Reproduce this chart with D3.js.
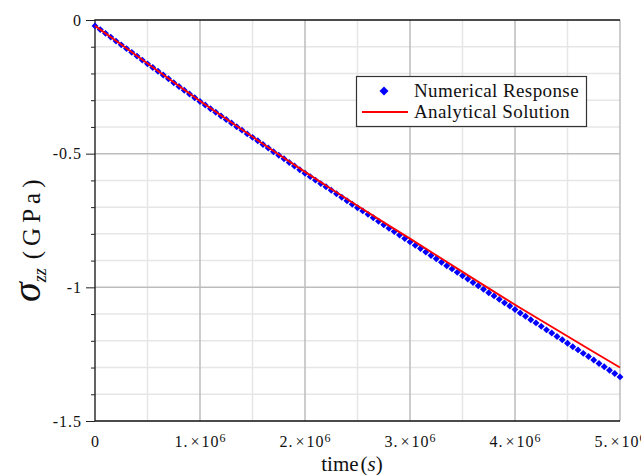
<!DOCTYPE html>
<html>
<head>
<meta charset="utf-8">
<script src="https://cdn.jsdelivr.net/npm/d3@7"></script>
<style>
  body { margin: 0; background: #fff; }
  svg { display: block; font-family: "Liberation Serif", "Times New Roman", serif; }
</style>
</head>
<body>
<div class="chart"></div>
<script>
// DATA ---------------------------------------------------------------

// sample times of the numerical response (units of 1e6 s)
const numTimes = [0, 0.05, 0.1, 0.15, 0.2, 0.25, 0.3, 0.35, 0.4, 0.45,
  0.5, 0.55, 0.6, 0.65, 0.7, 0.75, 0.8, 0.85, 0.9, 0.95,
  1, 1.05, 1.1, 1.15, 1.2, 1.25, 1.3, 1.35, 1.4, 1.45,
  1.5, 1.55, 1.6, 1.65, 1.7, 1.75, 1.8, 1.85, 1.9, 1.95,
  2, 2.05, 2.1, 2.15, 2.2, 2.25, 2.3, 2.35, 2.4, 2.45,
  2.5, 2.55, 2.6, 2.65, 2.7, 2.75, 2.8, 2.85, 2.9, 2.95,
  3, 3.05, 3.1, 3.15, 3.2, 3.25, 3.3, 3.35, 3.4, 3.45,
  3.5, 3.55, 3.6, 3.65, 3.7, 3.75, 3.8, 3.85, 3.9, 3.95,
  4, 4.05, 4.1, 4.15, 4.2, 4.25, 4.3, 4.35, 4.4, 4.45,
  4.5, 4.55, 4.6, 4.65, 4.7, 4.75, 4.8, 4.85, 4.9, 4.95, 5];

// sigma_zz numerical (GPa)
const numValues = [-0.022, -0.036, -0.050, -0.064, -0.079, -0.093, -0.107, -0.121, -0.135, -0.150,
  -0.164, -0.178, -0.192, -0.206, -0.220, -0.235, -0.249, -0.263, -0.277, -0.291,
  -0.305, -0.318, -0.332, -0.345, -0.359, -0.372, -0.385, -0.399, -0.412, -0.426,
  -0.439, -0.452, -0.466, -0.479, -0.493, -0.506, -0.519, -0.533, -0.546, -0.560,
  -0.573, -0.586, -0.599, -0.612, -0.624, -0.637, -0.650, -0.663, -0.676, -0.689,
  -0.702, -0.714, -0.727, -0.740, -0.753, -0.766, -0.779, -0.791, -0.804, -0.817,
  -0.830, -0.843, -0.855, -0.868, -0.881, -0.893, -0.906, -0.919, -0.931, -0.944,
  -0.957, -0.969, -0.982, -0.994, -1.007, -1.020, -1.032, -1.045, -1.058, -1.070,
  -1.083, -1.096, -1.108, -1.121, -1.133, -1.146, -1.159, -1.171, -1.184, -1.196,
  -1.209, -1.222, -1.234, -1.247, -1.259, -1.272, -1.285, -1.297, -1.310, -1.322, -1.335];

// analytical solution
const anaTimes = [0, 0.25, 0.5, 0.75, 1, 1.25, 1.5, 1.75, 2, 2.25, 2.5,
  2.75, 3, 3.25, 3.5, 3.75, 4, 4.25, 4.5, 4.75, 5];
const anaValues = [-0.022, -0.092, -0.163, -0.233, -0.303, -0.370, -0.437, -0.503, -0.568, -0.632, -0.695,
  -0.757, -0.818, -0.880, -0.942, -1.004, -1.065, -1.124, -1.183, -1.242, -1.300];

// ticks
const xMajor = [0, 1, 2, 3, 4, 5];
const xMinor = [0.5, 1.5, 2.5, 3.5, 4.5];
const yMajor = [0, -0.5, -1, -1.5];
const yMinor = [-0.1, -0.2, -0.3, -0.4, -0.6, -0.7, -0.8, -0.9, -1.1, -1.2, -1.3, -1.4];
const yLabels = ['0', '-0.5', '-1', '-1.5'];

const legendNames = ['Numerical Response', 'Analytical Solution'];

// CHART INIT ---------------------------------------------------------

const W = 641, H = 475;
const svg = d3.select('.chart')
    .append('svg')
    .attr('width', W)
    .attr('height', H);

const xScale = d3.scaleLinear().domain([0, 5]).range([95, 620]);
const yScale = d3.scaleLinear().domain([0, -1.5]).range([20, 421]);

// grid
const grid = svg.append('g');
grid.selectAll('.gx-minor').data(xMinor).enter().append('line')
    .attr('x1', d => xScale(d)).attr('x2', d => xScale(d))
    .attr('y1', yScale(0)).attr('y2', yScale(-1.5))
    .attr('stroke', '#e6e6e6').attr('stroke-width', 1.5);
grid.selectAll('.gy-minor').data(yMinor).enter().append('line')
    .attr('x1', xScale(0)).attr('x2', xScale(5))
    .attr('y1', d => yScale(d)).attr('y2', d => yScale(d))
    .attr('stroke', '#e6e6e6').attr('stroke-width', 1.5);
grid.selectAll('.gx-major').data(xMajor.slice(1)).enter().append('line')
    .attr('x1', d => xScale(d)).attr('x2', d => xScale(d))
    .attr('y1', yScale(0)).attr('y2', yScale(-1.5))
    .attr('stroke', '#bdbdbd').attr('stroke-width', 1.5);
grid.selectAll('.gy-major').data(yMajor.slice(1, 3)).enter().append('line')
    .attr('x1', xScale(0)).attr('x2', xScale(5))
    .attr('y1', d => yScale(d)).attr('y2', d => yScale(d))
    .attr('stroke', '#bdbdbd').attr('stroke-width', 1.5);

// frame: top, left, bottom black
svg.append('path')
    .attr('d', `M${xScale(5)},${yScale(0)}H${xScale(0)}V${yScale(-1.5)}H${xScale(5)}`)
    .attr('fill', 'none').attr('stroke', '#111').attr('stroke-width', 1.3);

// y axis (ticks outward)
const yAxisMinor = d3.axisLeft(yScale).tickValues(yMinor).tickSize(4).tickFormat('');
const yAxis = d3.axisLeft(yScale).tickValues(yMajor).tickSize(9).tickPadding(4)
    .tickFormat((d, i) => yLabels[i]);

svg.append('g').attr('class', 'axis y-minor')
    .attr('transform', `translate(${xScale(0)},0)`)
    .call(yAxisMinor);
svg.append('g').attr('class', 'axis y-axis')
    .attr('transform', `translate(${xScale(0)},0)`)
    .call(yAxis);

// x axis
const xAxis = d3.axisBottom(xScale).tickValues(xMajor).tickSize(0).tickPadding(15)
    .tickFormat('');
const xg = svg.append('g').attr('class', 'axis x-axis')
    .attr('transform', `translate(0,${yScale(-1.5)})`)
    .call(xAxis);

xg.selectAll('.tick text').each(function(d) {
  const t = d3.select(this);
  if (d === 0) { t.text('0'); return; }
  t.append('tspan').text(d + '.');
  t.append('tspan').attr('dx', 2).text('×');
  t.append('tspan').attr('dx', 1).text('10');
  t.append('tspan').attr('dy', '-0.45em').attr('font-size', '12px').text('6');
});

svg.selectAll('.axis path.domain').remove();
svg.selectAll('.axis .tick line').attr('stroke', '#222');
svg.selectAll('.axis text')
    .attr('font-family', '"Liberation Serif", serif')
    .attr('fill', '#111');
svg.selectAll('.y-axis text').attr('font-size', '16px').attr('letter-spacing', '1px');
svg.selectAll('.x-axis text').attr('font-size', '16px').attr('letter-spacing', '1px');

// axis titles
const xt = svg.append('text')
    .attr('x', 352).attr('y', 471)
    .attr('text-anchor', 'middle')
    .attr('font-size', '21px')
    .attr('fill', '#111');
xt.append('tspan').text('time');
xt.append('tspan').attr('dx', 2).text('(');
xt.append('tspan').attr('font-style', 'italic').text('s');
xt.append('tspan').text(')');

const yt = svg.append('text')
    .attr('transform', 'translate(40,302) rotate(-90)')
    .attr('fill', '#111');
yt.append('tspan').attr('font-style', 'italic').attr('font-size', '40px').text('σ');
yt.append('tspan').attr('font-style', 'italic').attr('font-size', '18px').attr('dy', 6).text('zz');
yt.append('tspan').attr('font-size', '25px').attr('dy', -6).attr('dx', 9)
    .attr('letter-spacing', '5px').text('(GPa)');

// marks
const diamond = d3.symbol().type(d3.symbolSquare).size(24);

svg.append('g').selectAll('path')
    .data(numTimes.map((t, i) => [t, numValues[i]]))
    .enter().append('path')
    .attr('d', diamond)
    .attr('transform', d => `translate(${xScale(d[0])},${yScale(d[1])}) rotate(45)`)
    .attr('fill', '#0000ff');

const line = d3.line().x(d => xScale(d[0])).y(d => yScale(d[1]));
svg.append('path')
    .datum(anaTimes.map((t, i) => [t, anaValues[i]]))
    .attr('d', line)
    .attr('fill', 'none')
    .attr('stroke', '#ff0000')
    .attr('stroke-width', 1.9);

// legend
const lg = svg.append('g');
lg.append('rect')
    .attr('x', 356.5).attr('y', 76.5).attr('width', 230).attr('height', 50)
    .attr('fill', '#fff').attr('stroke', '#333').attr('stroke-width', 1.2);
lg.append('path')
    .attr('d', d3.symbol().type(d3.symbolSquare).size(40))
    .attr('transform', 'translate(384,91) rotate(45)')
    .attr('fill', '#0000ff');
lg.append('line')
    .attr('x1', 362).attr('x2', 408).attr('y1', 112).attr('y2', 112)
    .attr('stroke', '#ff0000').attr('stroke-width', 1.9);
lg.selectAll('text').data(legendNames).enter().append('text')
    .attr('x', 414)
    .attr('y', (d, i) => 97 + i * 21)
    .attr('font-size', '19px')
    .attr('letter-spacing', '0.4px')
    .attr('fill', '#111')
    .text(d => d);
</script>
</body>
</html>
